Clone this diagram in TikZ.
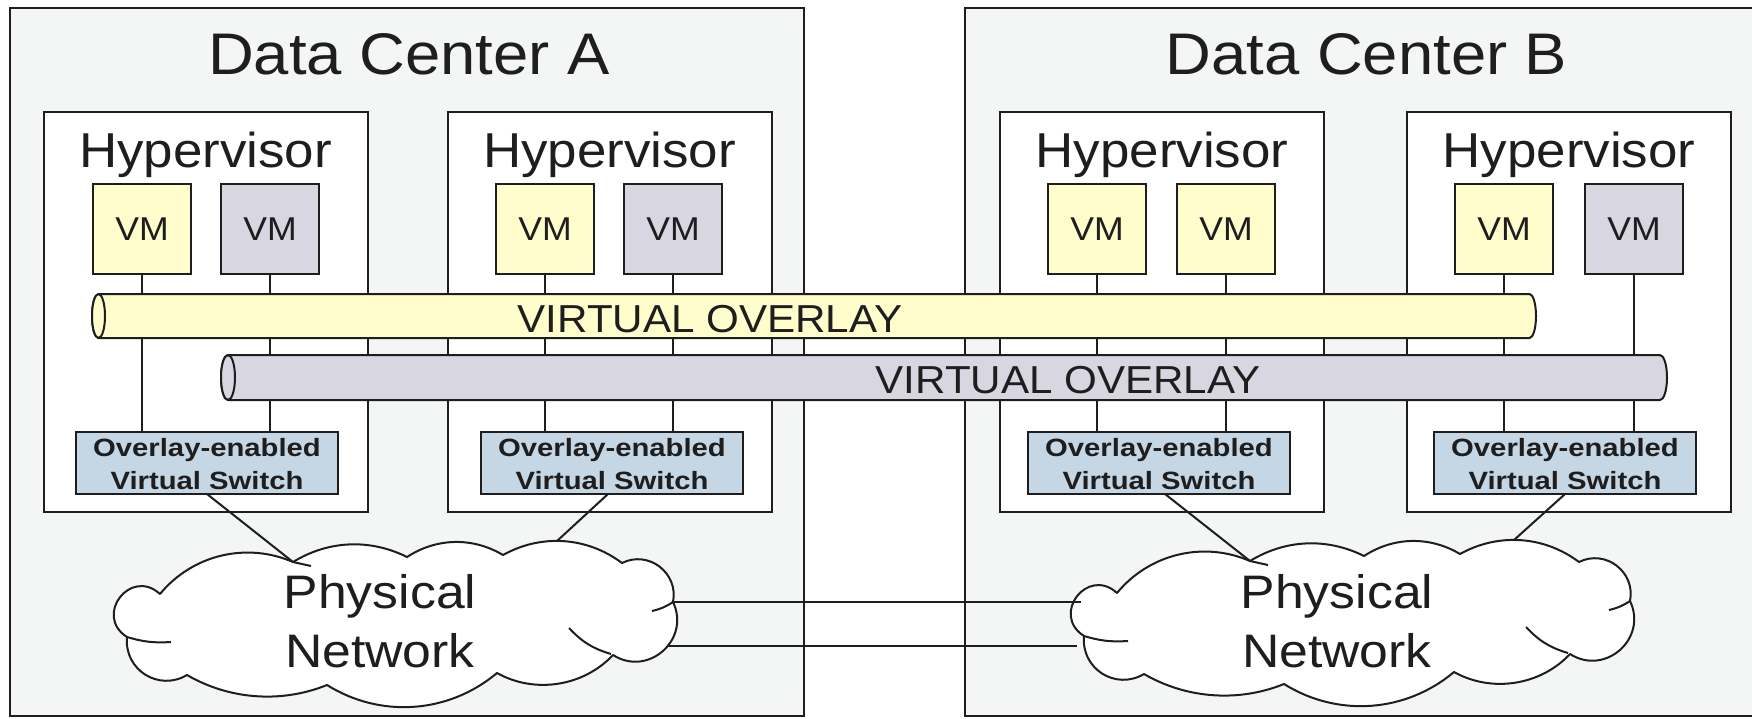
\documentclass[tikz,border=0pt]{standalone}
\usepackage{fontspec}
\setmainfont{Liberation Sans}
\newfontfamily\fwide[FakeStretch=1.08]{Liberation Sans}
\newfontfamily\fswitch[FakeStretch=1.17]{Liberation Sans}
\newfontfamily\fcloud[FakeStretch=1.1]{Liberation Sans}
\definecolor{dcfill}{RGB}{244,246,246}
\definecolor{vmyel}{RGB}{255,253,204}
\definecolor{vmgry}{RGB}{216,215,225}
\definecolor{swblu}{RGB}{197,214,228}
\definecolor{ink}{RGB}{30,30,30}
\tikzset{
  dcbox/.style={draw=ink, line width=2pt, fill=dcfill, inner sep=0pt},
  hyp/.style={draw=ink, line width=2pt, fill=white, minimum width=324pt, minimum height=400pt, inner sep=0pt},
  vmbox/.style={draw=ink, line width=2.4pt, minimum width=98pt, minimum height=90pt, inner sep=0pt, text=ink, font=\fwide\fontsize{33}{40}\selectfont},
  vmy/.style={vmbox, fill=vmyel},
  vmg/.style={vmbox, fill=vmgry},
  swbox/.style={draw=ink, line width=2pt, fill=swblu, minimum width=260pt, minimum height=60pt, inner sep=0pt},
  swtext/.style={anchor=north, inner sep=0pt, align=center, text=ink, font=\fswitch\bfseries\fontsize{25}{33}\selectfont},
  dctitle/.style={anchor=base, inner sep=0pt, text=ink, font=\fwide\fontsize{58.7}{70}\selectfont},
  hyptext/.style={anchor=base, inner sep=0pt, text=ink, font=\fwide\fontsize{49}{58}\selectfont},
  ovtext/.style={anchor=base, inner sep=0pt, text=ink, font=\fwide\fontsize{39}{47}\selectfont},
  cloudtext/.style={anchor=north, inner sep=0pt, align=center, text=ink, font=\fcloud\fontsize{47}{59}\selectfont},
  wire/.style={draw=ink, line width=2pt},
  cloudline/.style={draw=ink, line width=2pt, fill=white, line join=round},
  overlay/.style={draw=ink, line width=2pt, line join=round},
}
\newcommand\cloudoutline[1]{%
  \path[cloudline] (160,-594)
    to[bend left=37,looseness=.95] (293,-562)
    to[bend left=29,looseness=.93] (407,-557)
    to[bend left=32,looseness=.94] (503,-555)
    to[bend left=33,looseness=.94] (622,-563)
    to[bend left=64,looseness=1.18] (673,-602)
    to[bend left=74,looseness=1.33] (613,-655)
    to[bend left=38,looseness=.94] (497,-673)
    to[bend left=36,looseness=.95] (327,-685)
    to[bend left=26,looseness=.9] (187,-675)
    to[bend left=63,looseness=1.19] (127,-637)
    to[bend left=95,looseness=1.88] (160,-594) -- cycle;
  \draw[wire] (127,-637) to[bend right=10] (171,-642);
  \draw[wire] (673,-602) to[bend left=10] (652,-611);
  \draw[wire] (611,-654) to[bend left=15] (569,-628);
  \draw[wire] (293,-562) -- (311,-566);
  \coordinate (#1-t1) at (293,-562);
  \coordinate (#1-t2) at (557,-541);
  \coordinate (#1-r1) at (674,-602);
  \coordinate (#1-r2) at (667,-646);
  \coordinate (#1-l1) at (124,-603);
  \coordinate (#1-l2) at (120,-647);
}
\begin{document}
\begin{tikzpicture}[x=1pt,y=1pt]
\useasboundingbox (0,0) rectangle (1752,-718);
\clip (0,0) rectangle (1752,-718);
\fill[white] (0,0) rectangle (1752,-718);

% data centers
\node[dcbox, minimum width=794pt, minimum height=708pt] (dcA) at (407,-362) {};
\node[dcbox, minimum width=805pt, minimum height=708pt] (dcB) at (1367.5,-362) {};
\node[dctitle] (tA) at (409,-74) {Data Center A};
\node[dctitle] (tB) at (1366.5,-74) {Data Center B};

% hypervisors
\node[hyp] (h1) at (205.5,-312) {};
\node[hyp] (h2) at (609.5,-312) {};
\node[hyp] (h3) at (1162,-312) {};
\node[hyp] (h4) at (1569,-312) {};
\foreach \h in {h1,h2,h3,h4}{
  \node[hyptext] (\h-lab) at ([yshift=-56pt]\h.north) {Hypervisor};
}

% switches
\node[swbox] (s1) at (207,-463) {};
\node[swbox] (s2) at (612,-463) {};
\node[swbox] (s3) at (1159,-463) {};
\node[swbox] (s4) at (1565,-463) {};

% VMs
\node[vmy] (v1) at (142,-229) {VM};
\node[vmg] (v2) at (270,-229) {VM};
\node[vmy] (v3) at (545,-229) {VM};
\node[vmg] (v4) at (673,-229) {VM};
\node[vmy] (v5) at (1097,-229) {VM};
\node[vmy] (v6) at (1226,-229) {VM};
\node[vmy] (v7) at (1504,-229) {VM};
\node[vmg] (v8) at (1634,-229) {VM};

% VM to switch wires
\draw[wire] (v1.south) -- (v1.south |- s1.north);
\draw[wire] (v2.south) -- (v2.south |- s1.north);
\draw[wire] (v3.south) -- (v3.south |- s2.north);
\draw[wire] (v4.south) -- (v4.south |- s2.north);
\draw[wire] (v5.south) -- (v5.south |- s3.north);
\draw[wire] (v6.south) -- (v6.south |- s3.north);
\draw[wire] (v7.south) -- (v7.south |- s4.north);
\draw[wire] (v8.south) -- (v8.south |- s4.north);

% redraw switch boxes on top of wires
\foreach \s in {s1,s2,s3,s4}{
  \path[swbox] (\s.south west) rectangle (\s.north east);
  \node[swtext] (\s-lab) at ([yshift=-6pt]\s.north) {Overlay-enabled\\Virtual Switch};
}

% yellow overlay
\path[overlay, fill=vmyel] (98.5,-294) -- (1529.5,-294)
  arc[start angle=90, end angle=-90, x radius=6.5, y radius=22]
  -- (98.5,-338)
  arc[start angle=270, end angle=90, x radius=6.5, y radius=22] -- cycle;
\draw[overlay, fill=vmyel] (98.5,-316) ellipse[x radius=6.5, y radius=22];
\node[ovtext] (ovA) at (710,-332) {VIRTUAL OVERLAY};

% grey overlay
\path[overlay, fill=vmgry] (228,-355) -- (1660,-355)
  arc[start angle=90, end angle=-90, x radius=7, y radius=22.5]
  -- (228,-400)
  arc[start angle=270, end angle=90, x radius=7, y radius=22.5] -- cycle;
\draw[overlay, fill=vmgry] (228,-377.5) ellipse[x radius=7, y radius=22.5];
\node[ovtext] (ovB) at (1068,-393) {VIRTUAL OVERLAY};

% clouds
\cloudoutline{cA}
\begin{scope}[shift={(957,1)}]
\cloudoutline{cB}
\end{scope}
\node[cloudtext] (pA) at (380,-574.3) {Physical\\Network};
\node[cloudtext] (pB) at (1337,-574.3) {Physical\\Network};

% switch to cloud
\draw[wire] (s1.south) -- (cA-t1);
\draw[wire] ([xshift=-4pt]s2.south) -- (cA-t2);
\draw[wire] ([xshift=6pt]s3.south) -- (cB-t1);
\draw[wire] (s4.south) -- (cB-t2);

% inter-DC links
\draw[wire] (cA-r1) -- (cB-l1);
\draw[wire] (cA-r2) -- (cB-l2);
\end{tikzpicture}
\end{document}
